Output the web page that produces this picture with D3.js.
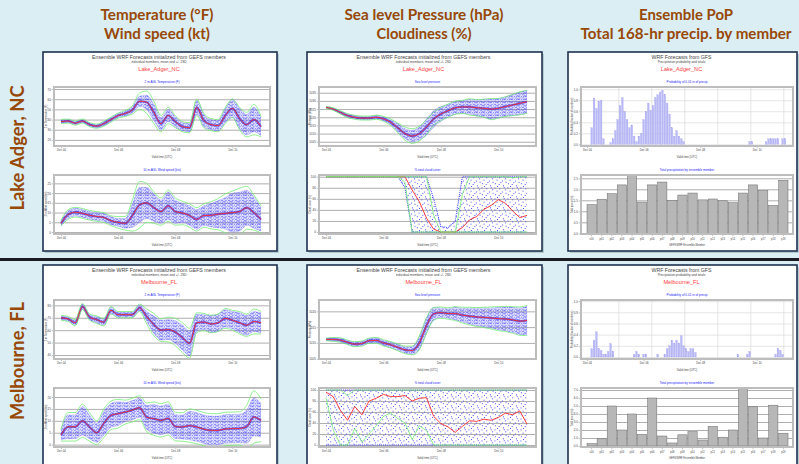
<!DOCTYPE html>
<html>
<head>
<meta charset="utf-8">
<script src="https://cdn.jsdelivr.net/npm/d3@7"></script>
<style>
  html, body { margin: 0; padding: 0; background: #daeef3; }
  svg { display: block; }
</style>
</head>
<body>
<svg id="slide" width="799" height="464"></svg>
<script>
// ---- slide text ----
const headerLines = [
  ['Temperature (°F)', 'Wind speed (kt)'],
  ['Sea level Pressure (hPa)', 'Cloudiness (%)'],
  ['Ensemble PoP', 'Total 168-hr precip. by member']
];
const rowLabels = ['Lake Adger, NC', 'Melbourne, FL'];
const stations = ['Lake_Adger_NC', 'Melbourne_FL'];

// ---- axes ----
const hours = [0, 6, 12, 18, 24, 30, 36, 42, 48, 54, 60, 66, 72, 78, 84, 90, 96, 102, 108, 114, 120, 126, 132, 138, 144, 150, 156, 162, 168];
const popHours = [0, 2, 4, 6, 8, 10, 12, 14, 16, 18, 20, 22, 24, 26, 28, 30, 32, 34, 36, 38, 40, 42, 44, 46, 48, 50, 52, 54, 56, 58, 60, 62, 64, 66, 68, 70, 72, 74, 76, 78, 80, 82, 84,
  86, 88, 90, 92, 94, 96, 98, 100, 102, 104, 106, 108, 110, 112, 114, 116, 118, 120, 122, 124, 126, 128, 130, 132, 134, 136, 138, 140, 142, 144, 146, 148, 150, 152, 154, 156, 158, 160, 162, 164, 166, 168];
const popGridHours = [27, 55, 83, 111, 139, 167];
const timeTicks = [0, 48, 96, 144];
const timeLabels = ['Dec 04', 'Dec 06', 'Dec 08', 'Dec 10'];
const members = ['c00', 'p01', 'p02', 'p03', 'p04', 'p05', 'p06', 'p07', 'p08', 'p09', 'p10', 'p11', 'p12', 'p13', 'p14', 'p15', 'p16', 'p17', 'p18', 'p19'];

// ---- Lake Adger, NC ----
const laTempTicks = [20, 30, 40, 50, 60, 70];
const laTempMean = [38, 38.5, 36.5, 38.5, 35, 33.5, 36, 40, 44, 46, 49.5, 58, 57, 47, 36, 44, 38, 33, 32, 52, 39, 35, 34, 44, 51, 41, 35, 40, 33];
const laTempSpread = [1.5, 1.5, 1.5, 1.5, 1.5, 1.5, 2, 2, 2, 2.5, 3, 5, 7, 8, 6, 6, 5, 4, 4, 7, 6, 5, 5, 7, 9, 10, 10, 12, 9];
const laTempSd = [2, 2, 2, 2, 2, 2, 2.5, 2.5, 2.5, 3, 4, 8, 11, 11, 8, 8, 6, 5, 5, 8, 7, 6, 6, 8, 9, 11, 12, 15, 10];

const laWindTicks = [0, 5, 10, 15, 20, 25];
const laWindMean = [4.5, 9, 10.2, 9.6, 8.6, 8, 7.5, 5.8, 5, 4.5, 8.5, 14, 15, 12.5, 10.5, 13.5, 10.5, 9.8, 8.5, 6.5, 8.5, 8.6, 9.2, 9.6, 10, 10.5, 12.5, 10, 6.5];
const laWindSpread = [1, 2, 2, 2, 2, 2, 2, 2, 2, 2.5, 6, 9, 8, 7, 6, 7, 6, 5, 5, 5, 5, 6, 7, 8, 10, 10, 9, 8, 6];
const laWindSd = [1.5, 2.5, 2.5, 2.5, 2.5, 2.5, 2.5, 2.5, 3, 3.5, 8, 12, 10, 8, 7, 8, 7, 6, 6, 6, 6, 7, 8, 10, 11, 12, 11, 9, 7];

const laPresTicks = [1005, 1010, 1015, 1020, 1025, 1030, 1035];
const laPresMean = [1026, 1025, 1023, 1021, 1020, 1019.5, 1019.5, 1020, 1019, 1017, 1013.5, 1010, 1008.5, 1010, 1014, 1019, 1022, 1024, 1025.8, 1026.3, 1026.3, 1025.8, 1025.5, 1025, 1025.5, 1026.5, 1027.5, 1028.5, 1029.5];
const laPresSpread = [0.3, 0.5, 0.8, 1, 1, 1, 1, 1, 1.2, 1.5, 2.5, 3, 3.5, 4, 5, 5, 4.5, 4, 4, 4, 4.5, 5, 5.5, 6, 6, 6, 6.5, 7, 7];
const laPresSd = [0.5, 0.8, 1, 1.2, 1.2, 1.2, 1.2, 1.3, 1.5, 2, 3, 4, 4.5, 4.5, 4.5, 4, 4, 4, 4, 4, 5, 5, 5.5, 6.5, 6, 6, 6.5, 7, 7];

const cloudTicks = [0, 20, 40, 60, 80, 100];
const laCloudMean = [100, 100, 100, 100, 100, 100, 100, 100, 100, 100, 100, 100, 76, 55, 25, 5, 0, 0, 0, 8, 22, 28, 41, 48, 58.5, 52, 38, 26, 30];
const laCloudSpread = [0, 0, 0, 0, 0, 0, 0, 0, 0, 0, 0, 20, 100, 100, 100, 55, 10, 8, 20, 100, 100, 100, 100, 100, 100, 100, 100, 100, 100];
const laCloudSd = [0, 0, 0, 0, 0, 0, 0, 0, 0, 0, 0, 10, 80, 90, 78, 25, 0, 0, 0, 60, 85, 80, 70, 70, 60, 60, 60, 75, 70];

const popTicks = [0, 0.2, 0.4, 0.6, 0.8, 1];
const laPop = [0, 0, 0.3, 0.84, 0.65, 0.78, 0.8, 0.1, 0, 0, 0.03, 0.1, 0.25, 0.45, 0.7, 0.85, 0.6,
  0.45, 0.3, 0.35, 0.15, 0.05, 0.15, 0.2, 0.45, 0.6, 0.75, 0.62, 0.7, 0.85, 0.9, 0.95, 0.98, 0.9,
  0.75, 0.55, 0.3, 0.15, 0.25, 0.15, 0.1, 0.05, 0, 0, 0, 0, 0, 0, 0, 0, 0,
  0, 0, 0, 0, 0, 0, 0, 0, 0, 0, 0, 0, 0, 0, 0, 0, 0,
  0, 0.05, 0.05, 0, 0, 0, 0, 0, 0.05, 0.1, 0.1, 0.1, 0.1, 0.1, 0, 0.1, 0.1];

const laPrecipTicks = [0, 0.5, 1, 1.5, 2, 2.5];
const laPrecip = [1.3, 1.55, 1.8, 2.2, 2.62, 1.42, 2.2, 2.33, 1.5, 1.74, 1.83, 1.52, 1.56, 1.48, 1.39, 1.83, 2.2, 1.94, 1.27, 2.41];

// ---- Melbourne, FL ----
const meTempTicks = [40, 50, 60, 70, 80];
const meTempMean = [70, 69, 66, 79, 70.5, 68.5, 66.5, 76, 72.5, 72.5, 72.5, 78, 71, 64.5, 60, 60.5, 58.5, 54, 49.5, 66, 66.5, 65, 66, 69.5, 68, 66, 64, 67, 66];
const meTempSpread = [1.5, 1.5, 2, 2, 2, 2.5, 2.5, 2.5, 2, 2, 2, 2.5, 4, 7, 8, 8, 9, 10, 10, 7, 6, 7, 7, 7, 7, 8, 8, 8, 8];
const meTempSd = [2, 2, 2.5, 2.5, 2.5, 3, 3, 3, 2.5, 2.5, 2.5, 3, 6, 9, 9, 10, 11, 12, 12, 8, 7, 7, 7, 8, 8, 9, 9, 10, 9];

const meWindTicks = [0, 5, 10, 15, 20];
const meWindMean = [4, 7.5, 7.5, 10, 7.4, 5, 9, 12.3, 13, 13.7, 14.5, 15.5, 11.5, 10.9, 10.2, 11, 7.6, 7.4, 8, 7.4, 6.5, 6, 6, 6.6, 6.7, 6.8, 7.6, 11.6, 10.2];
const meWindSpread = [2, 5, 5, 6, 5, 4, 5, 5, 5, 4, 4, 4, 5, 6, 6, 6, 5, 5, 6, 6, 6, 6, 6, 6, 6, 6, 7, 8, 7];
const meWindSd = [2.5, 6, 6, 7, 6, 5, 6, 6, 6, 5, 5, 5, 6, 7, 7, 7, 6, 6, 7, 7, 7, 7, 7, 7, 7, 7, 9, 11, 9];

const mePresTicks = [1005, 1010, 1015, 1020];
const mePresMean = [1011.1, 1011.1, 1010.9, 1010.2, 1009.6, 1009.8, 1010.7, 1010.8, 1010, 1009.4, 1008.6, 1007.8, 1007.6, 1010, 1015.5, 1019.2, 1019.6, 1019.3, 1019.3, 1018.8, 1018.5, 1018.2, 1018.1, 1017.9, 1017.7, 1017.6, 1017.3, 1016.9, 1017.1];
const mePresSpread = [0.3, 0.5, 0.6, 0.6, 0.7, 0.7, 0.7, 0.8, 0.8, 0.9, 1, 1, 1.2, 2, 2.5, 2, 1.5, 1.5, 2, 2.2, 2.5, 2.8, 3, 3.2, 3.5, 3.8, 4, 4.2, 4.5];
const mePresSd = [0.4, 0.6, 0.7, 0.7, 0.8, 0.8, 0.8, 0.9, 1, 1, 1.1, 1.2, 1.4, 2.2, 2.5, 2, 1.8, 1.8, 2.2, 2.5, 2.8, 3, 3.2, 3.5, 3.8, 4, 4.2, 4.5, 4.8];

const meCloudMean = [96, 88, 63, 45, 70, 55, 80, 85, 92, 88, 88, 90, 80, 85, 86, 52, 39, 33, 23, 34, 44, 43, 47, 45, 50, 58, 55, 62, 38];
const meCloudSpread = [100, 100, 100, 100, 100, 100, 100, 100, 100, 100, 100, 100, 100, 100, 100, 100, 100, 100, 100, 100, 100, 100, 100, 100, 100, 100, 100, 100, 100];
const meCloudSd = [10, 60, 63, 45, 40, 50, 60, 50, 40, 30, 40, 50, 70, 50, 60, 70, 75, 80, 80, 80, 80, 80, 80, 80, 80, 80, 80, 80, 80];

const mePop = [0, 0, 0.15, 0.3, 0.45, 0.15, 0.12, 0.05, 0.05, 0.1, 0.24, 0.1, 0, 0, 0, 0, 0,
  0, 0, 0, 0.05, 0.1, 0.05, 0, 0.05, 0.05, 0, 0, 0, 0, 0.05, 0, 0, 0.05,
  0.15, 0.2, 0.3, 0.25, 0.3, 0.25, 0.38, 0.2, 0.15, 0.1, 0.15, 0.15, 0.08, 0, 0, 0, 0,
  0, 0, 0, 0, 0, 0, 0, 0, 0, 0, 0, 0, 0, 0.05, 0, 0, 0,
  0.05, 0.1, 0, 0, 0, 0, 0, 0, 0, 0, 0, 0, 0.05, 0.15, 0.12, 0.05, 0];

const mePrecipTicks = [0, 1, 2, 3, 4, 5, 6, 7];
const mePrecip = [0.3, 0.9, 5.0, 2.0, 4.0, 1.46, 6.0, 1.25, 0.38, 1.4, 1.8, 0.75, 2.45, 1.1, 2.0, 7.2, 4.9, 1.0, 5.1, 1.6];

// ---- per-row options built from the arrays ----
const rows = [
  {
    temp: { mean: laTempMean, spread: laTempSpread, sd: laTempSd, ticks: laTempTicks, domain: [14, 72] },
    wind: { mean: laWindMean, spread: laWindSpread, sd: laWindSd, ticks: laWindTicks, domain: [-1, 29.3] },
    pres: { mean: laPresMean, spread: laPresSpread, sd: laPresSd, ticks: laPresTicks, domain: [1002.4, 1038.5] },
    cloud: { mean: laCloudMean, spread: laCloudSpread, sd: laCloudSd, ticks: cloudTicks, domain: [-3.6, 103.1] },
    pop: { values: laPop, domain: [-0.03, 1.04] },
    precip: { values: laPrecip, ticks: laPrecipTicks, domain: [-0.03, 2.65] }
  },
  {
    temp: { mean: meTempMean, spread: meTempSpread, sd: meTempSd, ticks: meTempTicks, domain: [36.8, 84.3] },
    wind: { mean: meWindMean, spread: meWindSpread, sd: meWindSd, ticks: meWindTicks, domain: [-1, 23.8] },
    pres: { mean: mePresMean, spread: mePresSpread, sd: mePresSd, ticks: mePresTicks, domain: [1004.9, 1023.6] },
    cloud: { mean: meCloudMean, spread: meCloudSpread, sd: meCloudSd, ticks: cloudTicks, domain: [-3.6, 103.6] },
    pop: { values: mePop, domain: [-0.036, 1.02] },
    precip: { values: mePrecip, ticks: mePrecipTicks, domain: [-0.125, 7.25] }
  }
];

const tinyFont = "'Liberation Sans', Arial, sans-serif";
const slideFont = "Lato, 'Open Sans', sans-serif";
const svg = d3.select('#slide');
const defs = svg.append('defs');

// member traces pattern: short dotted dashes, a bit irregular
const pm = defs.append('pattern').attr('id', 'memberDots').attr('patternUnits', 'userSpaceOnUse')
  .attr('width', 7).attr('height', 3.2);
[[0, 0, 1.6], [3.1, 0.2, 0.9], [5.2, 0, 1.2], [1.4, 1.6, 1.1], [4.2, 1.7, 1.6], [0.6, 2.5, 0.8], [6, 2.4, 0.7]]
  .forEach(([px, py, w]) => pm.append('rect').attr('x', px).attr('y', py).attr('width', w).attr('height', 0.7).attr('fill', '#1d1dff'));

// scattered cloud-cover member dots
const pc = defs.append('pattern').attr('id', 'cloudDots').attr('patternUnits', 'userSpaceOnUse')
  .attr('width', 13).attr('height', 11);
[[0.5, 0.5], [5.3, 1.4], [9.8, 0.3], [2.6, 3.7], [7.9, 4.6], [11.6, 5.8], [0.9, 7.3], [4.7, 8.1], [9.1, 9.4], [6.4, 6.2], [11.2, 2.4], [3.1, 10.1]]
  .forEach(([px, py]) => pc.append('rect').attr('x', px).attr('y', py).attr('width', 0.9).attr('height', 0.9).attr('fill', '#2a2aff'));

svg.append('rect').attr('width', 799).attr('height', 464).attr('fill', '#daeef3');

// ---- headers ----
const headerX = [157, 424, 686];
const headerW = [[113, 106], [159, 95], [94, 211]];
headerLines.forEach((lines, c) => {
  lines.forEach((t, k) => {
    svg.append('text')
      .attr('x', headerX[c]).attr('y', 20 + k * 18.5)
      .attr('text-anchor', 'middle')
      .attr('font-family', slideFont)
      .attr('font-weight', 'bold').attr('font-size', 15)
      .attr('textLength', headerW[c][k]).attr('lengthAdjust', 'spacingAndGlyphs')
      .attr('fill', '#984807')
      .text(t);
  });
});

// ---- row labels and separator ----
const rowLabelY = [148, 361];
const rowLabelW = [125, 118];
rowLabels.forEach((t, r) => {
  svg.append('text')
    .attr('transform', `translate(24,${rowLabelY[r]}) rotate(-90)`)
    .attr('text-anchor', 'middle')
    .attr('font-family', slideFont)
    .attr('font-weight', 'bold').attr('font-size', 18)
    .attr('textLength', rowLabelW[r]).attr('lengthAdjust', 'spacingAndGlyphs')
    .attr('fill', '#984807')
    .text(t);
});
svg.append('rect').attr('x', 0).attr('y', 258).attr('width', 799).attr('height', 3).attr('fill', '#1b1b22');

// ---- layout ----
const colX = [[43, 277], [307, 542], [568, 797]];
const rowTop = [52, 265];
const panelH = [199, 205];
let clipId = 0;

function panelBox(x0, y0, x1, y1) {
  svg.append('rect').attr('x', x0 + 2).attr('y', y0 + 2).attr('width', x1 - x0).attr('height', y1 - y0)
    .attr('fill', '#9fb3bb').attr('opacity', 0.6);
  svg.append('rect').attr('x', x0).attr('y', y0).attr('width', x1 - x0).attr('height', y1 - y0)
    .attr('fill', '#fff').attr('stroke', '#1f3251').attr('stroke-width', 1.6);
}

function tinyText(x, y, t, size, color, anchor) {
  return svg.append('text').attr('x', x).attr('y', y)
    .attr('text-anchor', anchor || 'middle')
    .attr('font-family', tinyFont).attr('font-size', size)
    .attr('fill', color).text(t);
}

function panelHead(cx, y0, title, sub, name) {
  tinyText(cx, y0 + 7, title, 5.2, '#444');
  tinyText(cx, y0 + 11.3, sub, 3.2, '#444');
  tinyText(cx, y0 + 18.5, name, 5.6, '#ff3c3c');
}

function frameBase(fr) {
  svg.append('rect').attr('x', fr.x0).attr('y', fr.y0).attr('width', fr.x1 - fr.x0).attr('height', fr.y1 - fr.y0)
    .attr('fill', '#fff');
}
function frameBorder(fr) {
  svg.append('rect').attr('x', fr.x0).attr('y', fr.y0).attr('width', fr.x1 - fr.x0).attr('height', fr.y1 - fr.y0)
    .attr('fill', 'none').attr('stroke', '#bdbdbd').attr('stroke-width', 2);
}
function makeClip(fr) {
  const id = 'clip' + (clipId++);
  defs.append('clipPath').attr('id', id).append('rect')
    .attr('x', fr.x0 + 1).attr('y', fr.y0 + 1).attr('width', fr.x1 - fr.x0 - 2).attr('height', fr.y1 - fr.y0 - 2);
  return `url(#${id})`;
}
function styleAxis(g, size) {
  g.select('.domain').remove();
  g.selectAll('text').attr('font-size', size).attr('font-family', tinyFont).attr('fill', '#444');
  g.selectAll('line').attr('stroke', '#666').attr('stroke-width', 0.4);
}
function hGrid(fr, y, ticks, color) {
  const g = svg.append('g').attr('transform', `translate(${fr.x0},0)`)
    .call(d3.axisLeft(y).tickValues(ticks).tickSize(-(fr.x1 - fr.x0)).tickFormat(''));
  g.select('.domain').remove();
  g.selectAll('line').attr('stroke', color).attr('stroke-width', 0.7);
}
function yLabels(fr, y, ticks, fmt) {
  const g = svg.append('g').attr('transform', `translate(${fr.x0 - 1},0)`)
    .call(d3.axisLeft(y).tickValues(ticks).tickSize(1.2).tickPadding(1).tickFormat(fmt));
  styleAxis(g, 3);
}
function timeAxis(fr, x, label) {
  const g = svg.append('g').attr('transform', `translate(0,${fr.y1 + 1})`)
    .call(d3.axisBottom(x).tickValues(timeTicks).tickFormat((d, i) => timeLabels[i]).tickSize(1.2).tickPadding(1.2));
  styleAxis(g, 2.8);
  tinyText((fr.x0 + fr.x1) / 2, fr.y1 + 12.3, label, 2.8, '#444');
}
function yTitle(x, fr, t) {
  svg.append('text').attr('transform', `translate(${x},${(fr.y0 + fr.y1) / 2}) rotate(-90)`)
    .attr('text-anchor', 'middle').attr('font-family', tinyFont).attr('font-size', 2.6)
    .attr('fill', '#444').text(t);
}

function ensemblePlot(fr, cfg, opts) {
  const x = d3.scaleLinear().domain([0, 168]).range([fr.x0 + 7, fr.x1 - 9]);
  const y = d3.scaleLinear().domain(cfg.domain).range([fr.y1, fr.y0]);
  const lim = v => opts.bounded ? Math.max(0, Math.min(100, v)) : v;
  const curve = opts.bounded ? d3.curveLinear : d3.curveMonotoneX;
  tinyText((fr.x0 + fr.x1) / 2, fr.y0 - 3.6, opts.title, 3.1, '#2424ff');
  frameBase(fr);
  hGrid(fr, y, cfg.ticks, '#8c8c8c');
  const clip = makeClip(fr);
  const g = svg.append('g').attr('clip-path', clip);
  const band = d3.area().curve(curve)
    .x((d, i) => x(hours[i]))
    .y0((d, i) => y(lim(cfg.mean[i] - cfg.spread[i])))
    .y1((d, i) => y(lim(cfg.mean[i] + cfg.spread[i])));
  const edge = sign => d3.line().curve(curve)
    .x((d, i) => x(hours[i]))
    .y((d, i) => y(lim(cfg.mean[i] + sign * cfg.spread[i])));
  const sdLine = sign => d3.line().curve(curve)
    .x((d, i) => x(hours[i]))
    .y((d, i) => y(lim(cfg.mean[i] + sign * cfg.sd[i])));
  const meanLine = d3.line().curve(curve).x((d, i) => x(hours[i])).y(d => y(lim(d)));
  const drawGreen = () => [1, -1].forEach(s => g.append('path').datum(cfg.mean).attr('d', sdLine(s))
    .attr('fill', 'none').attr('stroke', '#74ec74').attr('stroke-width', 0.8));
  const drawRed = () => g.append('path').datum(cfg.mean).attr('d', meanLine)
    .attr('fill', 'none').attr('stroke', '#ff2a2a').attr('stroke-width', 0.9);

  if (opts.bounded) {
    g.append('path').datum(cfg.mean).attr('d', band).attr('fill', 'url(#cloudDots)');
    [1, -1].forEach(s => g.append('path').datum(cfg.mean).attr('d', edge(s))
      .attr('fill', 'none').attr('stroke', '#2a2aff').attr('stroke-width', 1.1).attr('stroke-dasharray', '0.8 1.1'));
    drawRed();
    drawGreen();
  } else {
    g.append('path').datum(cfg.mean).attr('d', band).attr('fill', 'rgba(90,90,255,0.2)');
    g.append('path').datum(cfg.mean).attr('d', band).attr('fill', 'url(#memberDots)').attr('opacity', 0.7);
    [1, -1].forEach(s => g.append('path').datum(cfg.mean).attr('d', edge(s))
      .attr('fill', 'none').attr('stroke', '#5050ff').attr('stroke-width', 0.4).attr('stroke-dasharray', '0.8 0.6'));
    g.append('path').datum(cfg.mean).attr('d', meanLine)
      .attr('fill', 'none').attr('stroke', '#1414d8').attr('stroke-width', 2.2).attr('opacity', 0.55);
    drawGreen();
    drawRed();
  }
  frameBorder(fr);
  yLabels(fr, y, cfg.ticks, d3.format('d'));
  timeAxis(fr, x, 'Valid time (UTC)');
  yTitle(opts.titleX, fr, opts.yTitle);
}

function popPlot(fr, cfg, titleX) {
  const x = d3.scaleLinear().domain([0, 168]).range([fr.x0 + 6, fr.x1 - 8]);
  const y = d3.scaleLinear().domain(cfg.domain).range([fr.y1, fr.y0]);
  tinyText((fr.x0 + fr.x1) / 2, fr.y0 - 3.6, 'Probability of 0.01 in of precip', 3.1, '#2424ff');
  frameBase(fr);
  hGrid(fr, y, popTicks, '#dadada');
  svg.append('g').selectAll('line').data(popGridHours).join('line')
    .attr('x1', d => x(d)).attr('x2', d => x(d)).attr('y1', fr.y0).attr('y2', fr.y1)
    .attr('stroke', '#dadada').attr('stroke-width', 0.7);
  svg.append('g').attr('clip-path', makeClip(fr)).selectAll('rect').data(cfg.values).join('rect')
    .attr('x', (d, i) => x(popHours[i]) - 0.85).attr('width', 1.7)
    .attr('y', d => y(d)).attr('height', d => y(0) - y(d))
    .attr('fill', '#b9b9f6').attr('stroke', '#9f9ff0').attr('stroke-width', 0.25);
  frameBorder(fr);
  yLabels(fr, y, popTicks, d3.format('.1f'));
  timeAxis(fr, x, 'Valid time (UTC)');
  yTitle(titleX, fr, 'Probability (fraction of members)');
}

function precipPlot(fr, cfg, titleX) {
  const x = d3.scaleBand().domain(members).range([fr.x0 + 6, fr.x1 - 5]).paddingInner(0.08);
  const y = d3.scaleLinear().domain(cfg.domain).range([fr.y1, fr.y0]);
  tinyText((fr.x0 + fr.x1) / 2, fr.y0 - 3.6, 'Total precipitation by ensemble member', 3.1, '#2424ff');
  frameBase(fr);
  hGrid(fr, y, cfg.ticks, '#8c8c8c');
  svg.append('g').attr('clip-path', makeClip(fr)).selectAll('rect').data(cfg.values).join('rect')
    .attr('x', (d, i) => x(members[i])).attr('width', x.bandwidth())
    .attr('y', d => y(d)).attr('height', d => y(0) - y(d))
    .attr('fill', '#b7b7b7').attr('stroke', '#6a6a6a').attr('stroke-width', 0.5);
  frameBorder(fr);
  yLabels(fr, y, cfg.ticks, d3.format('.1f'));
  const g = svg.append('g').attr('transform', `translate(0,${fr.y1 + 1})`)
    .call(d3.axisBottom(x).tickSize(1.2).tickPadding(2));
  styleAxis(g, 2.6);
  tinyText((fr.x0 + fr.x1) / 2, fr.y1 + 12.3, 'GEFS/WRF Ensemble Member', 2.6, '#444');
  yTitle(titleX, fr, 'Total precip (in)');
}

// ---- draw both rows ----
const frameInset = [[11, 227], [12, 229], [13, 225]];
rows.forEach((row, r) => {
  const top = rowTop[r];
  const bottom = top + panelH[r];
  colX.forEach(([x0, x1], c) => {
    panelBox(x0, top, x1, bottom);
    const cx = (x0 + x1) / 2 - 1;
    if (c < 2) panelHead(cx, top, 'Ensemble WRF Forecasts initialized from GEFS members', 'individual members, mean and +/- 2SD', stations[r]);
    else panelHead(cx, top, 'WRF Forecasts from GFS', 'Precipitation probability and totals', stations[r]);
  });
  const fr = (c, k) => ({
    x0: colX[c][0] + frameInset[c][0], x1: colX[c][0] + frameInset[c][1],
    y0: top + (k === 0 ? 35 : 123), y1: top + (k === 0 ? 94 : 182)
  });
  ensemblePlot(fr(0, 0), row.temp, { title: '2 m AGL Temperature (F)', yTitle: '2 m Temperature (F)', titleX: colX[0][0] + 4 });
  ensemblePlot(fr(0, 1), row.wind, { title: '10 m AGL Wind speed (kts)', yTitle: '10 m Wind speed (kts)', titleX: colX[0][0] + 4 });
  ensemblePlot(fr(1, 0), row.pres, { title: 'Sea level pressure', yTitle: 'Pressure (hPa)', titleX: colX[1][0] + 4 });
  ensemblePlot(fr(1, 1), row.cloud, { title: '% total cloud cover', yTitle: 'Cloud cover (%)', titleX: colX[1][0] + 4, bounded: true });
  popPlot(fr(2, 0), row.pop, colX[2][0] + 5);
  precipPlot(fr(2, 1), row.precip, colX[2][0] + 5);
});
</script>
</body>
</html>
